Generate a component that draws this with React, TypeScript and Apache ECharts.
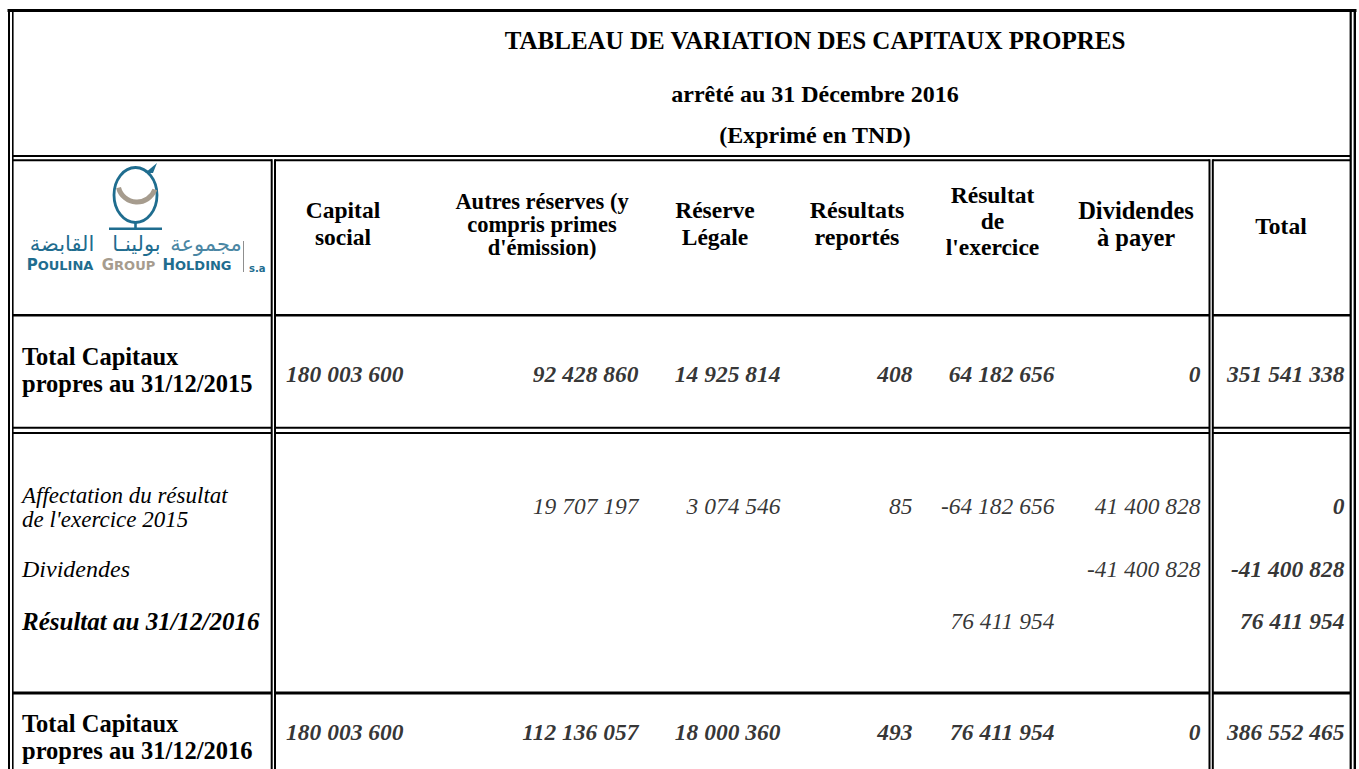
import React, { useEffect, useRef } from "react";
import * as echarts from "echarts";

// ---------- DATA ----------
const TITLE_LINES = [
  "TABLEAU DE VARIATION DES CAPITAUX PROPRES",
  "arrêté au 31 Décembre 2016",
  "(Exprimé en TND)",
];
const COLUMN_HEADERS = [
  ["Capital", "social"],
  ["Autres réserves (y", "compris primes", "d'émission)"],
  ["Réserve", "Légale"],
  ["Résultats", "reportés"],
  ["Résultat", "de", "l'exercice"],
  ["Dividendes", "à payer"],
  ["Total"],
];
const ROW_LABELS = [
  ["Total Capitaux", "propres au 31/12/2015"],
  ["Affectation du résultat", "de l'exercice 2015"],
  ["Dividendes"],
  ["Résultat au 31/12/2016"],
  ["Total Capitaux", "propres au 31/12/2016"],
];
const CAPITAUX_2015 = [180003600, 92428860, 14925814, 408, 64182656, 0, 351541338];
const AFFECTATION_2015 = [null, 19707197, 3074546, 85, -64182656, 41400828, 0];
const DIVIDENDES_2016 = [null, null, null, null, null, -41400828, -41400828];
const RESULTAT_2016 = [null, null, null, null, 76411954, null, 76411954];
const CAPITAUX_2016 = [180003600, 112136057, 18000360, 493, 76411954, 0, 386552465];
const ROW_VALUES = [CAPITAUX_2015, AFFECTATION_2015, DIVIDENDES_2016, RESULTAT_2016, CAPITAUX_2016];

// ---------- LAYOUT ----------
const W = 1359;
const H = 769;
const FONT = "'Liberation Serif', serif";
const TITLE_CX = 815;
const TITLE_Y = [40, 94, 135];
const TITLE_SIZE = [25, 24, 24];
const HEADER_X = [343, 542, 715, 857, 992.5, 1136, 1281];
const HEADER_Y = [[210, 237], [201, 224, 247], [210, 237], [210, 237], [195, 221, 247], [210, 237], [225.5]];
const HEADER_SIZE = [23.5, 22.5, 23.5, 24, 23.5, 24.5, 23.5];
const LABEL_X = 22;
const LABEL_Y = [[356.5, 383.5], [495, 519], [569], [621.5], [723, 750]];
const LABEL_STYLE = ["b", "i", "i", "bi", "b"];
const LABEL_SIZE = [24.5, 23, 24, 25, 24.5];
const VALUE_RIGHT = [404, 639, 781, 913, 1055, 1201, 1345];
const VALUE_Y = [374, 506, 569, 621, 731.5];
const ROW_ALL_BOLD = [true, false, false, false, true];

const fmt = (v: number) =>
  (v < 0 ? "-" : "") + String(Math.abs(v)).replace(/\B(?=(\d{3})+(?!\d))/g, " ");

const TEAL = "#1f6d8f";
const GRAY = "#a69c8e";

function line(x1: number, y1: number, x2: number, y2: number, w: number, color = "#000") {
  return { type: "line", silent: true, shape: { x1, y1, x2, y2 }, style: { stroke: color, lineWidth: w } };
}

function buildLines() {
  const els: any[] = [];
  const colGroups = [
    [12.7, 271.7],
    [275, 1209.5],
    [1212.7, 1350.7],
  ];
  els.push(line(7.5, 10.5, 1356.5, 10.5, 3));
  els.push(line(9, 9, 9, H, 2));
  els.push(line(12.8, 10, 12.8, H, 1.6));
  els.push(line(1350.7, 10, 1350.7, H, 2.2));
  els.push(line(1354.8, 9, 1354.8, H, 2.4));
  els.push(line(12.7, 156, 1350.7, 156, 2));
  [271.7, 275, 1209.5, 1212.8].forEach((x) => els.push(line(x, 159.3, x, H, 2)));
  const hs = [
    [160.3, 2],
    [315.3, 2.6],
    [427.7, 2],
    [433, 2],
    [693, 3],
  ];
  hs.forEach(([y, w]) => colGroups.forEach(([a, b]) => els.push(line(a, y, b, y, w))));
  return els;
}

function buildTexts() {
  const els: any[] = [];
  TITLE_LINES.forEach((t, i) =>
    els.push({
      type: "text",
      silent: true,
      x: TITLE_CX,
      y: TITLE_Y[i],
      style: { text: t, fill: "#000", font: `bold ${TITLE_SIZE[i]}px ${FONT}`, textAlign: "center", textVerticalAlign: "middle" },
    })
  );
  COLUMN_HEADERS.forEach((lines, c) =>
    lines.forEach((t, k) =>
      els.push({
        type: "text",
        silent: true,
        x: HEADER_X[c],
        y: HEADER_Y[c][k],
        style: {
          text: t,
          fill: "#000",
          font: `bold ${HEADER_SIZE[c]}px ${FONT}`,
          textAlign: "center",
          textVerticalAlign: "middle",
        },
      })
    )
  );
  ROW_LABELS.forEach((lines, r) =>
    lines.forEach((t, k) => {
      const st = LABEL_STYLE[r];
      const weight = st.includes("b") ? "bold" : "normal";
      const style = st.includes("i") ? "italic" : "normal";
      els.push({
        type: "text",
        silent: true,
        x: LABEL_X,
        y: LABEL_Y[r][k],
        style: {
          text: t,
          fill: "#000",
          font: `${style} ${weight} ${LABEL_SIZE[r]}px ${FONT}`,
          textAlign: "left",
          textVerticalAlign: "middle",
        },
      });
    })
  );
  return els;
}

function buildLogo() {
  const els: any[] = [];
  els.push({
    type: "ellipse",
    silent: true,
    shape: { cx: 135.5, cy: 195, rx: 21.5, ry: 27.5 },
    style: { fill: "none", stroke: TEAL, lineWidth: 2.8 },
  });
  els.push({
    type: "arc",
    silent: true,
    shape: { cx: 137, cy: 183, r: 19, startAngle: 0.35, endAngle: 2.9, clockwise: true },
    style: { fill: "none", stroke: GRAY, lineWidth: 5 },
  });
  els.push({
    type: "polygon",
    silent: true,
    shape: { points: [[145, 173], [157, 163], [153, 173]] },
    style: { fill: TEAL },
  });
  els.push(line(135.5, 222, 135.5, 228.5, 2.6, TEAL));
  els.push(line(109, 228.8, 162, 228.8, 2.6, TEAL));
  const ar = [
    ["مجموعة", 206, "#4a86a3"],
    ["بولينـا", 136.5, TEAL],
    ["القابضة", 62, TEAL],
  ];
  ar.forEach(([t, x, col]) =>
    els.push({
      type: "text",
      silent: true,
      x,
      y: 244,
      style: { text: t, fill: col, font: `21px 'DejaVu Sans', sans-serif`, textAlign: "center", textVerticalAlign: "middle" },
    })
  );
  const en = [
    ["P", "OULINA", 60, TEAL],
    ["G", "ROUP", 128.5, GRAY],
    ["H", "OLDING", 197, TEAL],
  ];
  en.forEach(([a, b, x, col]) =>
    els.push({
      type: "text",
      silent: true,
      x,
      y: 265,
      style: {
        text: `{a|${a}}{b|${b}}`,
        textAlign: "center",
        textVerticalAlign: "middle",
        rich: {
          a: { fill: col, fontSize: 15, fontWeight: "bold", fontFamily: "'DejaVu Sans', sans-serif" },
          b: { fill: col, fontSize: 13, fontWeight: "bold", fontFamily: "'DejaVu Sans', sans-serif" },
        },
      },
    })
  );
  els.push(line(243.5, 241, 243.5, 272, 1, "#8f8f8f"));
  els.push({
    type: "text",
    silent: true,
    x: 249,
    y: 268,
    style: { text: "s.a", fill: TEAL, font: `bold 10px 'DejaVu Sans', sans-serif`, textAlign: "left", textVerticalAlign: "middle" },
  });
  return els;
}

function buildCells() {
  const cells: any[] = [];
  ROW_VALUES.forEach((row, r) =>
    row.forEach((v, c) => {
      if (v === null || v === undefined) return;
      const bold = ROW_ALL_BOLD[r] || c === row.length - 1;
      cells.push({
        name: fmt(v as number),
        value: [VALUE_RIGHT[c], VALUE_Y[r]],
        label: { fontWeight: bold ? "bold" : "normal", fontStyle: "italic" },
      });
    })
  );
  return cells;
}

export default function App() {
  const ref = useRef<HTMLDivElement>(null);
  useEffect(() => {
    if (!ref.current) return;
    const chart = echarts.init(ref.current, undefined, { renderer: "svg" });
    chart.setOption({
      animation: false,
      backgroundColor: "#ffffff",
      grid: { left: 0, right: 0, top: 0, bottom: 0, containLabel: false },
      xAxis: { type: "value", min: 0, max: W, show: false },
      yAxis: { type: "value", min: 0, max: H, inverse: true, show: false },
      graphic: { elements: [...buildLines(), ...buildTexts(), ...buildLogo()] },
      series: [
        {
          type: "scatter",
          symbolSize: 1,
          silent: true,
          itemStyle: { color: "rgba(0,0,0,0)" },
          emphasis: { disabled: true },
          label: {
            show: true,
            position: "left",
            distance: 0,
            color: "#000",
            fontFamily: FONT,
            fontSize: 23.5,
            formatter: (p: any) => p.name,
          },
          labelLayout: { hideOverlap: false },
          data: buildCells(),
        },
      ],
    });
    return () => chart.dispose();
  }, []);
  return <div ref={ref} style={{ position: "fixed", left: 0, top: 0, width: W, height: H, background: "#fff" }} />;
}
